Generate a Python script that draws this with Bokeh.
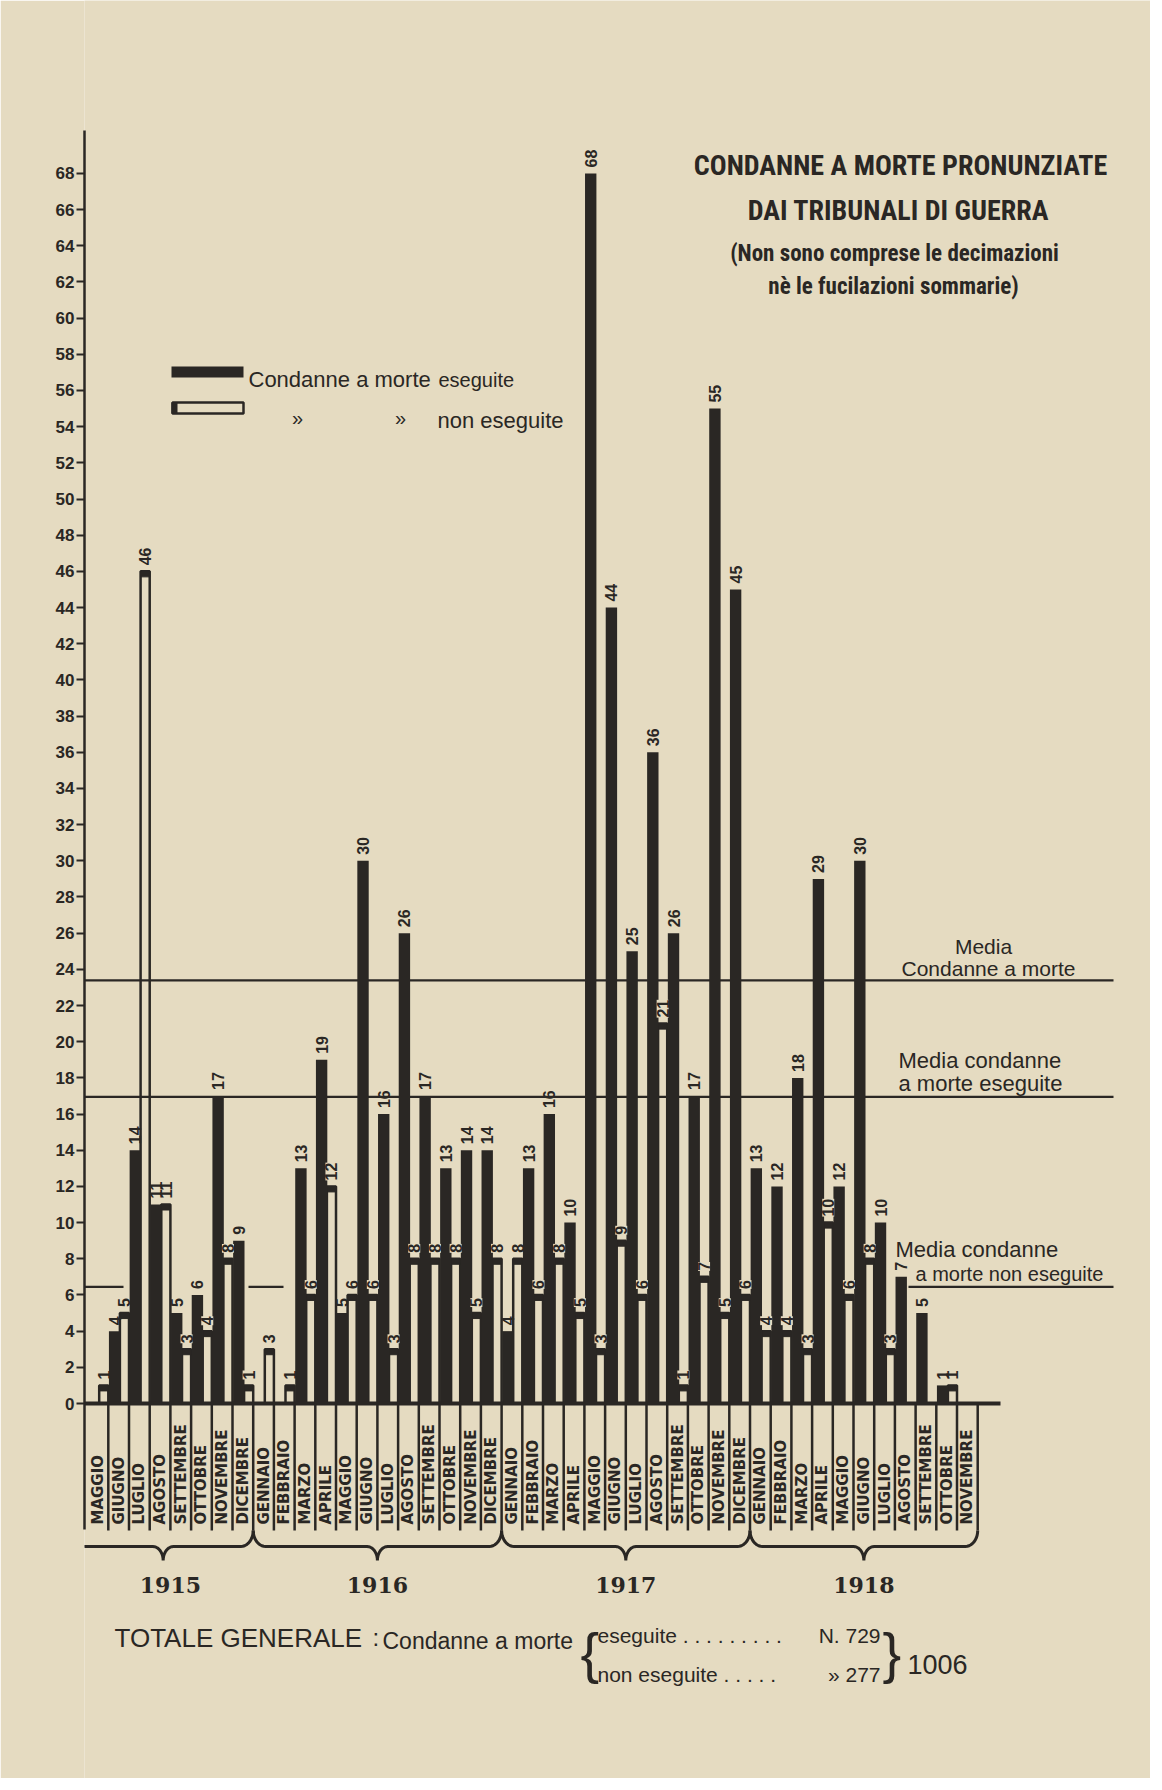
import math
from bokeh.plotting import figure
from bokeh.models import Range1d, FixedTicker, Label, ColumnDataSource
from bokeh.core.properties import value
from bokeh.embed import file_html
from bokeh.resources import INLINE

# ---------------- data ----------------
years = ["1915", "1916", "1917", "1918"]
months_per_year = [8, 12, 12, 11]
months_1915 = ["MAGGIO", "GIUGNO", "LUGLIO", "AGOSTO", "SETTEMBRE", "OTTOBRE",
               "NOVEMBRE", "DICEMBRE"]
months_year = ["GENNAIO", "FEBBRAIO", "MARZO", "APRILE", "MAGGIO", "GIUGNO", "LUGLIO",
               "AGOSTO", "SETTEMBRE", "OTTOBRE", "NOVEMBRE", "DICEMBRE"]
month_labels = months_1915 + months_year + months_year + months_year[:11]

eseguite = [0, 4, 14, 11, 5, 6, 17, 9,
            0, 0, 13, 19, 5, 30, 16, 26, 17, 13, 14, 14,
            4, 13, 16, 10, 68, 44, 25, 36, 26, 17, 55, 45,
            13, 12, 18, 29, 12, 30, 10, 7, 5, 1, 0]
non_eseguite = [1, 5, 46, 11, 3, 4, 8, 1,
                3, 1, 6, 12, 6, 6, 3, 8, 8, 8, 5, 8,
                8, 6, 8, 5, 3, 9, 6, 21, 1, 7, 5, 6,
                4, 4, 3, 10, 6, 8, 3, 0, 0, 1, 0]
y_ticks = list(range(0, 69, 2))

# ---------------- style / layout ----------------
PAPER = "#e5dbc1"
INK = "#2a2724"
HAND = "Liberation Sans"
TITLE_FONT = "Roboto Condensed, DejaVu Sans Condensed, Roboto"
MONTH_FONT = "DejaVu Sans"
YEAR_FONT = "DejaVu Serif"

W, H = 1150, 1778
FRAME_LEFT = 84
PX_PER_MONTH = 20.7
PX_PER_UNIT = 18.09
X_START = -0.15
x_end = X_START + (W - FRAME_LEFT) / PX_PER_MONTH
ZERO_PAGE_Y = 1403
y_top = ZERO_PAGE_Y / PX_PER_UNIT
y_bottom = y_top - H / PX_PER_UNIT


def gx(px):
    return X_START + (px - FRAME_LEFT) / PX_PER_MONTH


def gy(py):
    return (ZERO_PAGE_Y - py) / PX_PER_UNIT


p = figure(width=W, height=H, x_range=Range1d(X_START, x_end),
           y_range=Range1d(y_bottom, y_top), x_axis_location=None,
           y_axis_location="left", output_backend="svg", toolbar_location=None,
           min_border_left=FRAME_LEFT, min_border_right=0, min_border_top=0,
           min_border_bottom=0, background_fill_color=PAPER,
           border_fill_color=PAPER, outline_line_color=None)
p.grid.visible = False

ax = p.yaxis[0]
ax.ticker = FixedTicker(ticks=y_ticks)
ax.bounds = (gy(1529), gy(130))
ax.axis_line_color = INK
ax.axis_line_width = 2.5
ax.major_tick_line_color = INK
ax.major_tick_line_width = 2
ax.major_tick_out = 8
ax.major_tick_in = 0
ax.minor_tick_line_color = None
ax.major_label_text_font = HAND
ax.major_label_text_font_style = "bold"
ax.major_label_text_font_size = "17px"
ax.major_label_text_color = INK
ax.major_label_standoff = 2

n = len(month_labels)
idx = list(range(n))
tot_e = sum(eseguite)
tot_n = sum(non_eseguite)
mean_all = (tot_e + tot_n) / n
mean_e = tot_e / n
mean_n = tot_n / n
CAP = 5.5 / PX_PER_UNIT
LAB_OFF = 6 / PX_PER_UNIT

# white bars (non eseguite)
wi = [i for i in idx if non_eseguite[i] > 0]
src_w = ColumnDataSource(dict(
    left=[i + 0.56 for i in wi], right=[i + 1.0 for i in wi],
    top=[non_eseguite[i] for i in wi], bottom=[0] * len(wi),
    cap=[non_eseguite[i] - CAP for i in wi]))
p.quad(left="left", right="right", top="top", bottom="bottom", source=src_w,
       fill_color=PAPER, line_color=INK, line_width=2.5)

# average lines
line_end = gx(1113)
p.segment(x0=[X_START, X_START], y0=[mean_all, mean_e], x1=[line_end, line_end],
          y1=[mean_all, mean_e], line_color=INK, line_width=2.2)
non_segments_px = [(84, 123), (248, 283), (908, 1113)]
p.segment(x0=[gx(a) for a, b in non_segments_px], y0=[mean_n] * 3,
          x1=[gx(b) for a, b in non_segments_px], y1=[mean_n] * 3,
          line_color=INK, line_width=2.2)

# caps of white bars
p.quad(left="left", right="right", top="top", bottom="cap", source=src_w,
       fill_color=INK, line_color=INK, line_width=1)

# black bars (eseguite)
bi = [i for i in idx if eseguite[i] > 0]
src_b = ColumnDataSource(dict(
    left=[i + 0.03 for i in bi], right=[i + 0.58 for i in bi],
    top=[eseguite[i] for i in bi], bottom=[0] * len(bi),
    x=[i + 0.305 for i in bi], ly=[eseguite[i] + LAB_OFF for i in bi],
    lab=[str(eseguite[i]) for i in bi]))
p.quad(left="left", right="right", top="top", bottom="bottom", source=src_b,
       fill_color=INK, line_color=None)

# value labels
lab_kw = dict(angle=math.pi / 2, text_font=value(HAND), text_font_size="16px",
              text_font_style="bold", text_align="left", text_baseline="middle",
              text_color=INK)
p.text(x="x", y="ly", text="lab", source=src_b, **lab_kw)
w_boxed = [i for i in wi if eseguite[i] > non_eseguite[i] + 1]
w_free = [i for i in wi if i not in w_boxed]
for group, bg in ((w_free, None), (w_boxed, PAPER)):
    src = ColumnDataSource(dict(
        x=[i + 0.78 for i in group], ly=[non_eseguite[i] + LAB_OFF for i in group],
        lab=[str(non_eseguite[i]) for i in group]))
    p.text(x="x", y="ly", text="lab", source=src, background_fill_color=bg, **lab_kw)

# baseline and month columns
p.segment(x0=[X_START], y0=[0], x1=[gx(1000)], y1=[0], line_color=INK, line_width=4)
col_edges = [i + 1 for i in idx]
p.segment(x0=col_edges, y0=[0] * n, x1=col_edges, y1=[gy(1530)] * n,
          line_color=INK, line_width=2.5)
p.text(x=[i + 0.5 for i in idx], y=[gy(1524)] * n, text=month_labels,
       angle=math.pi / 2, text_font=value(MONTH_FONT), text_font_size="15px",
       text_font_style="bold", text_align="left", text_baseline="middle",
       text_color=INK)

# year braces and labels
starts = []
s = 0
for c in months_per_year:
    starts.append(s)
    s += c
b_top, b_mid, b_tip = gy(1530), gy(1546), gy(1560)
brace_xs, brace_ys, year_x = [], [], []
for st, c in zip(starts, months_per_year):
    a = st if st > 0 else X_START - 0.55
    e = st + c
    m = (a + e) / 2
    year_x.append((st + e) / 2)
    xs, ys = [], []
    steps = 10
    for j in range(steps + 1):
        t = j / steps * math.pi / 2
        xs.append(a + 0.6 * (1 - math.cos(t)))
        ys.append(b_top + (b_mid - b_top) * math.sin(t))
    for j in range(steps + 1):
        t = j / steps * math.pi / 2
        xs.append(m - 0.5 + 0.5 * math.sin(t))
        ys.append(b_mid + (b_tip - b_mid) * (1 - math.cos(t)))
    for j in range(steps + 1):
        t = j / steps * math.pi / 2
        xs.append(m + 0.5 * (1 - math.cos(t)))
        ys.append(b_tip + (b_mid - b_tip) * math.sin(t))
    for j in range(steps + 1):
        t = j / steps * math.pi / 2
        xs.append(e - 0.6 + 0.6 * math.sin(t))
        ys.append(b_mid + (b_top - b_mid) * (1 - math.cos(t)))
    brace_xs.append(xs)
    brace_ys.append(ys)
p.multi_line(xs=brace_xs, ys=brace_ys, line_color=INK, line_width=3)
p.text(x=year_x, y=[gy(1584)] * len(years), text=years, text_font=value(YEAR_FONT),
       text_font_size="22px", text_font_style="bold", text_align="center",
       text_baseline="middle", text_color=INK)


def lab(text, px, py, size, align="left", font=HAND, style="normal",
        baseline="alphabetic", y=None):
    p.add_layout(Label(x=gx(px), y=gy(py) if y is None else y, text=text,
                       text_font=font, text_font_size=f"{size}px",
                       text_font_style=style, text_color=INK, text_align=align,
                       text_baseline=baseline))


# title
lab("CONDANNE A MORTE PRONUNZIATE", 900, 165, 28, "center", TITLE_FONT, "bold")
lab("DAI TRIBUNALI DI GUERRA", 898, 210, 28, "center", TITLE_FONT, "bold")
lab("(Non sono comprese le decimazioni", 894, 253, 23, "center", TITLE_FONT, "bold")
lab("nè le fucilazioni sommarie)", 893, 286, 23, "center", TITLE_FONT, "bold")

# legend
p.quad(left=[gx(171)], right=[gx(243)], top=[gy(366)], bottom=[gy(377)],
       fill_color=INK, line_color=None)
p.quad(left=[gx(172)], right=[gx(243)], top=[gy(402)], bottom=[gy(413)],
       fill_color=PAPER, line_color=INK, line_width=2.5)
p.quad(left=[gx(171)], right=[gx(177)], top=[gy(402)], bottom=[gy(413)],
       fill_color=INK, line_color=None)
lab("Condanne a morte", 248, 379, 22)
lab("eseguite", 438, 379, 20)
lab("»", 297, 417, 20, "center")
lab("»", 400, 417, 20, "center")
lab("non eseguite", 437, 420, 22)

# average annotations
lab("Media", 983, 0, 21, "center", y=mean_all + 34 / PX_PER_UNIT)
lab("Condanne a morte", 988, 0, 21, "center", y=mean_all + 12 / PX_PER_UNIT)
lab("Media condanne", 898, 0, 22, y=mean_e + 36 / PX_PER_UNIT)
lab("a morte eseguite", 898, 0, 22, y=mean_e + 13 / PX_PER_UNIT)
lab("Media condanne", 895, 0, 22, y=mean_n + 37 / PX_PER_UNIT)
lab("a morte non eseguite", 915, 0, 20, y=mean_n + 13 / PX_PER_UNIT)

# totals
lab("TOTALE GENERALE", 114, 1637, 26)
lab(":", 372, 1637, 24)
lab("Condanne a morte", 382, 1640, 23)
lab("{", 580, 1652, 56, baseline="middle")
lab("eseguite . . . . . . . . .", 597, 1635, 21)
lab(f"N. {tot_e}", 880, 1635, 21, "right")
lab("non eseguite . . . . .", 597, 1674, 21)
lab(f"» {tot_n}", 880, 1674, 21, "right")
lab("}", 882, 1652, 56, baseline="middle")
lab(f"{tot_e + tot_n}", 907, 1664, 27)

html = file_html(p, INLINE, title="Condanne a morte pronunziate dai tribunali di guerra")
html = html.replace("<body>", '<body style="background-color:#2a2724;">', 1)
open("out.html", "w").write(html)
